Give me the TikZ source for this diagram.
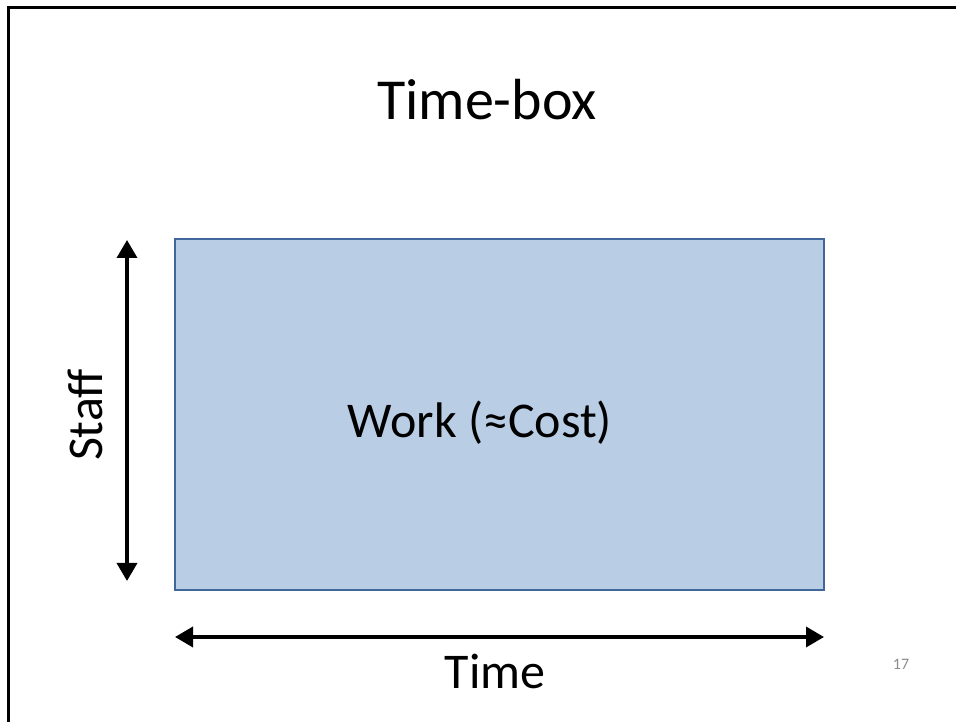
\documentclass[tikz,border=0pt]{standalone}
\usepackage{fontspec}
\setmainfont{Carlito}
\usetikzlibrary{arrows.meta}
\definecolor{boxfill}{HTML}{B9CDE5}
\definecolor{boxline}{HTML}{41679A}
\definecolor{pagenum}{HTML}{8C8C8C}
\begin{document}
\begin{tikzpicture}[x=1pt,y=1pt,
  dimarrow/.style={line width=3.6pt,{Triangle[length=18pt,width=20pt]}-{Triangle[length=18pt,width=20pt]}},
  bigtext/.style={font=\fontsize{50}{60}\selectfont}]
\useasboundingbox (0,0) rectangle (956,722);
\draw[line width=3pt] (8,-20) -- (8,714) -- (980,714);
\node[font=\fontsize{58}{70}\selectfont] (title) at (487,622) {Time-box};
\draw[boxline, fill=boxfill, line width=2pt] (175,132) rectangle (824,483);
\node[bigtext] (work) at (480,299) {Work (≈Cost)};
\coordinate (vtop) at (127,482);
\coordinate (vbot) at (127,141);
\draw[dimarrow] (vbot) -- (vtop);
\node[bigtext, rotate=90] (staff) at (85,307) {Staff};
\coordinate (hl) at (175,85);
\coordinate (hr) at (824,85);
\draw[dimarrow] (hl) -- (hr);
\node[bigtext] (time) at (495,51) {Time};
\node[font=\fontsize{16}{18}\selectfont, text=pagenum] (num) at (901,58) {17};
\end{tikzpicture}
\end{document}
